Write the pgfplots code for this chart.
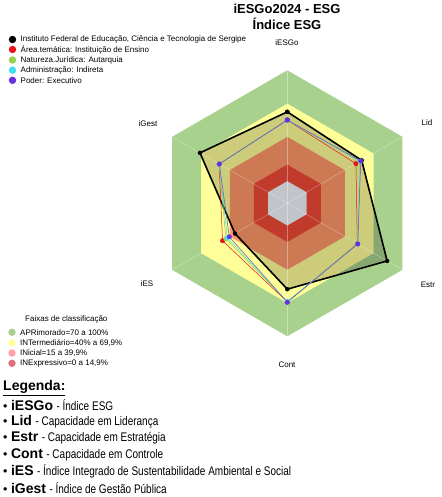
\documentclass[border=0pt]{standalone}
\usepackage{pgfplots}
\pgfplotsset{compat=1.18}
\usepackage{pgfplotstable}
\usepackage{fontspec}
\setmainfont{Liberation Sans}
\newfontfamily\narrow[FakeStretch=0.8]{Liberation Sans}

\definecolor{cApr}{HTML}{A9D18E}
\definecolor{cInt}{HTML}{FFFF99}
\definecolor{cIni}{HTML}{FF986A}
\definecolor{cInx}{HTML}{F04A36}
\definecolor{cZero}{HTML}{F2F6FA}
\definecolor{lApr}{HTML}{A9D18E}
\definecolor{lInt}{HTML}{FFFF99}
\definecolor{lIni}{HTML}{FF9FA8}
\definecolor{lInx}{HTML}{E0707C}
\definecolor{cRed}{HTML}{E8141E}
\definecolor{cGreen}{HTML}{92D050}
\definecolor{cCyan}{HTML}{40E0F0}
\definecolor{cPurple}{HTML}{6A2EE0}

% angle a in degrees; values in percent
\pgfplotstableread{
a     ifs   area  nat   adm   pod   apr  int  ini  inx  zero
90    62.5  55.0  55.0  55.0  55.2  100  69.9 39.9 14.9 0
30    57.5  51.5  55.5  56.0  56.5  100  69.9 39.9 14.9 0
-30   84.0  53.0  53.0  53.5  53.4  100  69.9 39.9 14.9 0
-90   57.5  69.0  69.0  68.5  69.3  100  69.9 39.9 14.9 0
-150  34.5  47.5  44.0  42.5  40.4  100  69.9 39.9 14.9 0
150   71.0  51.0  51.0  51.0  50.8  100  69.9 39.9 14.9 0
90    62.5  55.0  55.0  55.0  55.2  100  69.9 39.9 14.9 0
}\radar

\pgfplotsset{table/rad/.style={
  /pgfplots/table/x expr={(\thisrow{#1}+20)*cos(\thisrow{a})},
  /pgfplots/table/y expr={(\thisrow{#1}+20)*sin(\thisrow{a})}}}

\begin{document}
\begin{tikzpicture}[x=1pt,y=1pt]
\useasboundingbox (0,0) rectangle (441,-497);
\fill[white] (0,0) rectangle (441,-497);

% title
\node[anchor=base, font=\bfseries\fontsize{13}{15}\selectfont] at (287,-14) {iESGo2024 - ESG};
\node[anchor=base, font=\bfseries\fontsize{13}{15}\selectfont] at (287,-29.3) {Índice ESG};

\begin{axis}[at={(287.3pt,-203.3pt)}, anchor=center,
  x=1.10833pt, y=1.10833pt,
  xmin=-125, xmax=125, ymin=-125, ymax=125,
  hide axis, clip=false]
\addplot[fill=cApr, draw=none] table[rad=apr] {\radar};
\addplot[fill=cInt, draw=none] table[rad=int] {\radar};
\addplot[fill=cIni, draw=none] table[rad=ini] {\radar};
\addplot[fill=cInx, draw=none] table[rad=inx] {\radar};
\addplot[fill=cZero, draw=none] table[rad=zero] {\radar};
\addplot[fill=black, fill opacity=0.2, draw=none] table[rad=ifs] {\radar};
\pgfplotsinvokeforeach{90,30,-30,-90,-150,150}{
  \draw[white, opacity=0.35, line width=0.5pt] (axis cs:0,0) -- (axis cs:{120*cos(#1)},{120*sin(#1)});
}
\addplot[black, line width=1.6pt, mark=*, mark size=2pt, mark options={fill=black, line width=0.4pt}] table[rad=ifs] {\radar};
\addplot[cRed, line width=0.5pt, mark=*, mark size=2.2pt, mark options={fill=cRed}] table[rad=area] {\radar};
\addplot[cGreen, line width=0.5pt, mark=*, mark size=2.2pt, mark options={fill=cGreen}] table[rad=nat] {\radar};
\addplot[cCyan, line width=0.5pt, mark=*, mark size=2.2pt, mark options={fill=cCyan}] table[rad=adm] {\radar};
\addplot[cPurple!60!gray, line width=0.5pt, mark=*, mark size=2.2pt, mark options={draw=cPurple, fill=cPurple}] table[rad=pod] {\radar};
\end{axis}

% category labels
\begin{scope}[every node/.style={font=\fontsize{8}{9}\selectfont}]
\node at (287,-43) {iESGo};
\node at (427,-123) {Lid};
\node at (428,-285) {Estr};
\node at (287,-365) {Cont};
\node at (147,-284) {iES};
\node at (148,-124) {iGest};
\end{scope}

% series legend
\begin{scope}[every node/.style={anchor=west, inner sep=0pt, font=\fontsize{8}{9}\selectfont}]
\fill[black] (12.5,-39.5) circle (3.7);
\node at (20.5,-39.5) {Instituto Federal de Educação, Ciência e Tecnologia de Sergipe};
\fill[cRed] (12.5,-49.5) circle (3.7);
\node at (20.5,-49.5) {Área.temática: Instituição de Ensino};
\fill[cGreen] (12.5,-60) circle (3.7);
\node at (20.5,-60) {Natureza.Jurídica: Autarquia};
\fill[cCyan] (12.5,-70.2) circle (3.7);
\node at (20.5,-70.2) {Administração: Indireta};
\fill[cPurple] (12.5,-80.3) circle (3.7);
\node at (20.5,-80.3) {Poder: Executivo};

% classification legend
\node at (25,-319.3) {Faixas de classificação};
\fill[lApr] (12,-332.3) circle (3.7);
\node at (20,-332.3) {APRimorado=70 a 100\%};
\fill[lInt] (12,-342.7) circle (3.7);
\node at (20,-342.7) {INTermediário=40\% a 69,9\%};
\fill[lIni] (12,-353) circle (3.7);
\node at (20,-353) {INicial=15 a 39,9\%};
\fill[lInx] (12,-363.3) circle (3.7);
\node at (20,-363.3) {INExpressivo=0 a 14,9\%};
\end{scope}

% bottom legend
\node[anchor=west, inner sep=0pt, font=\bfseries\fontsize{14}{16}\selectfont] at (3,-388) {\underline{Legenda:}};
\begin{scope}[every node/.style={anchor=west, inner sep=0pt, font=\fontsize{12.5}{14}\selectfont}]
\node at (3,-405) {• {\fontsize{14}{16}\selectfont\bfseries iESGo} {\narrow - Índice ESG}};
\node at (3,-421.7) {• {\fontsize{14}{16}\selectfont\bfseries Lid} {\narrow - Capacidade em Liderança}};
\node at (3,-438.3) {• {\fontsize{14}{16}\selectfont\bfseries Estr} {\narrow - Capacidade em Estratégia}};
\node at (3,-455) {• {\fontsize{14}{16}\selectfont\bfseries Cont} {\narrow - Capacidade em Controle}};
\node at (3,-471.7) {• {\fontsize{14}{16}\selectfont\bfseries iES} {\narrow - Índice Integrado de Sustentabilidade Ambiental e Social}};
\node at (3,-488.3) {• {\fontsize{14}{16}\selectfont\bfseries iGest} {\narrow - Índice de Gestão Pública}};
\end{scope}
\end{tikzpicture}
\end{document}
